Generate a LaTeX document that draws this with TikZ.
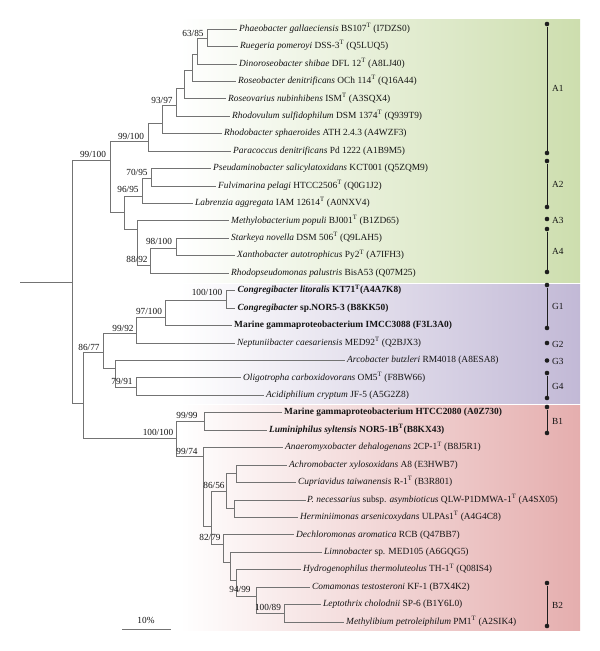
\documentclass[tikz,border=0pt]{standalone}
\usepackage{fontspec}
\setmainfont{Liberation Serif}
\definecolor{treegray}{RGB}{115,115,115}
\definecolor{bardark}{RGB}{30,30,30}
\definecolor{grpgreen}{RGB}{205,222,174}
\definecolor{grppurple}{RGB}{194,185,214}
\definecolor{grppink}{RGB}{229,174,174}
\definecolor{txt}{RGB}{20,20,20}
\begin{document}
\begin{tikzpicture}[x=1pt,y=-1pt,
  br/.style={draw=treegray, line width=0.8pt},
  leaf/.style={anchor=west, inner xsep=2.5pt, inner ysep=0pt, text height=6.5pt, text depth=2pt, text=txt, font=\fontsize{9.4}{10}\selectfont},
  bs/.style={inner sep=0pt, text=txt, font=\fontsize{9.3}{10}\selectfont},
  bar/.style={draw=bardark, line width=0.9pt},
  dot/.style={circle, fill=bardark, inner sep=0pt, minimum size=4.6pt},
  grp/.style={anchor=west, inner sep=0pt, text=txt, font=\fontsize{9.3}{10}\selectfont}]
\useasboundingbox (0,0) rectangle (600,651);
\fill[white] (0,0) rectangle (600,651);
% backgrounds
\shade[left color=white, right color=grpgreen] (180,19) rectangle (580,282.5);
\shade[left color=white, right color=grppurple] (180,284.5) rectangle (580,403.5);
\shade[left color=white, right color=grppink] (180,405.5) rectangle (580,630);
% leaves
\node[leaf] (l1) at (236.5,29.0) {\textit{Phaeobacter gallaeciensis} BS107\textsuperscript{T} (I7DZS0)};
\node[leaf] (l2) at (237.5,46.4) {\textit{Ruegeria pomeroyi} DSS-3\textsuperscript{T} (Q5LUQ5)};
\node[leaf] (l3) at (236.5,63.9) {\textit{Dinoroseobacter shibae} DFL 12\textsuperscript{T} (A8LJ40)};
\node[leaf] (l4) at (235.5,81.3) {\textit{Roseobacter denitrificans} OCh 114\textsuperscript{T} (Q16A44)};
\node[leaf] (l5) at (225.5,98.8) {\textit{Roseovarius nubinhibens} ISM\textsuperscript{T} (A3SQX4)};
\node[leaf] (l6) at (229.5,116.2) {\textit{Rhodovulum sulfidophilum} DSM 1374\textsuperscript{T} (Q939T9)};
\node[leaf] (l7) at (221.5,133.6) {\textit{Rhodobacter sphaeroides} ATH 2.4.3 (A4WZF3)};
\node[leaf] (l8) at (230.5,151.1) {\textit{Paracoccus denitrificans} Pd 1222 (A1B9M5)};
\node[leaf] (l9) at (210.5,168.5) {\textit{Pseudaminobacter salicylatoxidans} KCT001 (Q5ZQM9)};
\node[leaf] (l10) at (215.5,186.0) {\textit{Fulvimarina pelagi} HTCC2506\textsuperscript{T} (Q0G1J2)};
\node[leaf] (l11) at (192.5,203.4) {\textit{Labrenzia aggregata} IAM 12614\textsuperscript{T} (A0NXV4)};
\node[leaf] (l12) at (228.5,220.8) {\textit{Methylobacterium populi} BJ001\textsuperscript{T} (B1ZD65)};
\node[leaf] (l13) at (228.5,238.3) {\textit{Starkeya novella} DSM 506\textsuperscript{T} (Q9LAH5)};
\node[leaf] (l14) at (234.5,255.7) {\textit{Xanthobacter autotrophicus} Py2\textsuperscript{T} (A7IFH3)};
\node[leaf] (l15) at (228.5,273.2) {\textit{Rhodopseudomonas palustris} BisA53 (Q07M25)};
\node[leaf] (l16) at (235,290.6) {\textbf{\textit{Congregibacter litoralis} KT71\textsuperscript{T}(A4A7K8)}};
\node[leaf] (l17) at (235,308.0) {\textbf{\textit{Congregibacter} sp.NOR5-3 (B8KK50)}};
\node[leaf] (l18) at (231.5,325.5) {\textbf{Marine gammaproteobacterium IMCC3088 (F3L3A0)}};
\node[leaf] (l19) at (234.5,342.9) {\textit{Neptuniibacter caesariensis} MED92\textsuperscript{T} (Q2BJX3)};
\node[leaf] (l20) at (344.5,360.4) {\textit{Arcobacter butzleri} RM4018 (A8ESA8)};
\node[leaf] (l21) at (240.5,377.8) {\textit{Oligotropha carboxidovorans} OM5\textsuperscript{T} (F8BW66)};
\node[leaf] (l22) at (263.5,395.2) {\textit{Acidiphilium cryptum} JF-5 (A5G2Z8)};
\node[leaf] (l23) at (281.5,412.7) {\textbf{Marine gammaproteobacterium HTCC2080 (A0Z730)}};
\node[leaf] (l24) at (266.5,430.1) {\textbf{\textit{Luminiphilus syltensis} NOR5-1B\textsuperscript{T}(B8KX43)}};
\node[leaf] (l25) at (282.5,447.6) {\textit{Anaeromyxobacter dehalogenans} 2CP-1\textsuperscript{T} (B8J5R1)};
\node[leaf] (l26) at (286.5,465.0) {\textit{Achromobacter xylosoxidans} A8 (E3HWB7)};
\node[leaf] (l27) at (295.5,482.4) {\textit{Cupriavidus taiwanensis} R-1\textsuperscript{T} (B3R801)};
\node[leaf, inner xsep=1pt] (l28) at (306,499.9) {\textit{P. necessarius} subsp. \textit{asymbioticus} QLW-P1DMWA-1\textsuperscript{T} (A4SX05)};
\node[leaf] (l29) at (297.5,517.3) {\textit{Herminiimonas arsenicoxydans} ULPAs1\textsuperscript{T} (A4G4C8)};
\node[leaf] (l30) at (293.5,534.8) {\textit{Dechloromonas aromatica} RCB (Q47BB7)};
\node[leaf] (l31) at (321.5,552.2) {\textit{Limnobacter} sp. MED105 (A6GQG5)};
\node[leaf] (l32) at (300.5,569.6) {\textit{Hydrogenophilus thermoluteolus} TH-1\textsuperscript{T} (Q08IS4)};
\node[leaf] (l33) at (309.5,587.1) {\textit{Comamonas testosteroni} KF-1 (B7X4K2)};
\node[leaf] (l34) at (320.5,604.5) {\textit{Leptothrix cholodnii} SP-6 (B1Y6L0)};
\node[leaf] (l35) at (343.5,622.0) {\textit{Methylibium petroleiphilum} PM1\textsuperscript{T} (A2SIK4)};
% internal nodes
\coordinate (R0) at (20,282);
\coordinate (R) at (72,282);
\coordinate (N8) at (110,160);
\coordinate (N7) at (148,141);
\coordinate (N6) at (162,123);
\coordinate (N5) at (176,105);
\coordinate (N4) at (184,88);
\coordinate (N3) at (192,70);
\coordinate (N2) at (197.5,54);
\coordinate (N1) at (207,38);
\coordinate (N9) at (124,212);
\coordinate (N10) at (142,196);
\coordinate (N11) at (151,178);
\coordinate (N12) at (137,229);
\coordinate (N13) at (150,265);
\coordinate (N14) at (176,248);
\coordinate (N15) at (83,403);
\coordinate (N16) at (103,352);
\coordinate (N17) at (136,333);
\coordinate (N18) at (165,317);
\coordinate (NC) at (226,300);
\coordinate (N19) at (115,368);
\coordinate (N21) at (136,387);
\coordinate (N20) at (176,438);
\coordinate (N22) at (204,421);
\coordinate (N23) at (203,456);
\coordinate (N24) at (211,526);
\coordinate (N25) at (226,491);
\coordinate (N26) at (236,473);
\coordinate (N27) at (234,508);
\coordinate (N28) at (223,544);
\coordinate (N29) at (230,562);
\coordinate (N30) at (236,580);
\coordinate (N31) at (256,596);
\coordinate (N32) at (284,613);
% branches
\draw[br] (R0) -- (R);
\draw[br] (R) |- (N8); \draw[br] (R) |- (N15);
\draw[br] (N8) |- (N7); \draw[br] (N8) |- (N9);
\draw[br] (N7) |- (N6); \draw[br] (N7) |- (l8.west);
\draw[br] (N6) |- (N5); \draw[br] (N6) |- (l7.west);
\draw[br] (N5) |- (N4); \draw[br] (N5) |- (l6.west);
\draw[br] (N4) |- (N3); \draw[br] (N4) |- (l5.west);
\draw[br] (N3) |- (N2); \draw[br] (N3) |- (l4.west);
\draw[br] (N2) |- (N1); \draw[br] (N2) |- (l3.west);
\draw[br] (N1) |- (l1.west); \draw[br] (N1) |- (l2.west);
\draw[br] (N9) |- (N10); \draw[br] (N9) |- (N12);
\draw[br] (N10) |- (N11); \draw[br] (N10) |- (l11.west);
\draw[br] (N11) |- (l9.west); \draw[br] (N11) |- (l10.west);
\draw[br] (N12) |- (l12.west); \draw[br] (N12) |- (N13);
\draw[br] (N13) |- (N14); \draw[br] (N13) |- (l15.west);
\draw[br] (N14) |- (l13.west); \draw[br] (N14) |- (l14.west);
\draw[br] (N15) |- (N16); \draw[br] (N15) |- (N20);
\draw[br] (N16) |- (N17); \draw[br] (N16) |- (N19);
\draw[br] (N17) |- (N18); \draw[br] (N17) |- (l19.west);
\draw[br] (N18) |- (NC); \draw[br] (N18) |- (l18.west);
\draw[br] (NC) |- (l16.west); \draw[br] (NC) |- (l17.west);
\draw[br] (N19) |- (l20.west); \draw[br] (N19) |- (N21);
\draw[br] (N21) |- (l21.west); \draw[br] (N21) |- (l22.west);
\draw[br] (N20) |- (N22); \draw[br] (N20) |- (N23);
\draw[br] (N22) |- (l23.west); \draw[br] (N22) |- (l24.west);
\draw[br] (N23) |- (l25.west); \draw[br] (N23) |- (N24);
\draw[br] (N24) |- (N25); \draw[br] (N24) |- (N28);
\draw[br] (N25) |- (N26); \draw[br] (N25) |- (N27);
\draw[br] (N26) |- (l26.west); \draw[br] (N26) |- (l27.west);
\draw[br] (N27) |- (l28.west); \draw[br] (N27) |- (l29.west);
\draw[br] (N28) |- (l30.west); \draw[br] (N28) |- (N29);
\draw[br] (N29) |- (l31.west); \draw[br] (N29) |- (N30);
\draw[br] (N30) |- (l32.west); \draw[br] (N30) |- (N31);
\draw[br] (N31) |- (l33.west); \draw[br] (N31) |- (N32);
\draw[br] (N32) |- (l34.west); \draw[br] (N32) |- (l35.west);
% bootstrap labels
\node[bs] (b1) at (193,33) {63/85};
\node[bs] (b2) at (162,100) {93/97};
\node[bs] (b3) at (131,136) {99/100};
\node[bs] (b4) at (93,154) {99/100};
\node[bs] (b5) at (137,172) {70/95};
\node[bs] (b6) at (128,189) {96/95};
\node[bs] (b7) at (159,241) {98/100};
\node[bs] (b8) at (137,259) {88/92};
\node[bs] (b9) at (207,292) {100/100};
\node[bs] (b10) at (149,311) {97/100};
\node[bs] (b11) at (123,328) {99/92};
\node[bs] (b12) at (89,347) {86/77};
\node[bs] (b13) at (122,381) {79/91};
\node[bs] (b14) at (187,415) {99/99};
\node[bs] (b15) at (158,432) {100/100};
\node[bs] (b16) at (187,451) {99/74};
\node[bs] (b17) at (214,485) {86/56};
\node[bs] (b18) at (210,537) {82/79};
\node[bs] (b19) at (240,589) {94/99};
\node[bs] (b20) at (268,607) {100/89};
% group bars
\node[dot] (a1t) at (547,24) {}; \node[dot] (a1b) at (547,153) {};
\draw[bar] (a1t) -- (a1b);
\node[grp] (ga1) at (552,88.5) {A1};
\node[dot] (a2t) at (547,161) {}; \node[dot] (a2b) at (547,207) {};
\draw[bar] (a2t) -- (a2b);
\node[grp] (ga2) at (552,184) {A2};
\node[dot] (a3) at (547,219) {};
\node[grp] (ga3) at (552,220) {A3};
\node[dot] (a4t) at (547,229) {}; \node[dot] (a4b) at (547,272) {};
\draw[bar] (a4t) -- (a4b);
\node[grp] (ga4) at (552,251) {A4};
\node[dot] (g1t) at (547,285) {}; \node[dot] (g1b) at (547,328) {};
\draw[bar] (g1t) -- (g1b);
\node[grp] (gg1) at (552,306.5) {G1};
\node[dot] (g2) at (547,343) {};
\node[grp] (gg2) at (552,344) {G2};
\node[dot] (g3) at (547,360.5) {};
\node[grp] (gg3) at (552,361.5) {G3};
\node[dot] (g4t) at (547,373) {}; \node[dot] (g4b) at (547,398) {};
\draw[bar] (g4t) -- (g4b);
\node[grp] (gg4) at (552,386) {G4};
\node[dot] (b1t) at (547,407) {}; \node[dot] (b1b) at (547,433) {};
\draw[bar] (b1t) -- (b1b);
\node[grp] (gb1) at (552,421) {B1};
\node[dot] (b2t) at (547,583) {}; \node[dot] (b2b) at (547,626) {};
\draw[bar] (b2t) -- (b2b);
\node[grp] (gb2) at (552,605) {B2};
% scale bar
\coordinate (s1) at (122,629);
\coordinate (s2) at (171,629);
\draw[br] (s1) -- (s2);
\node[bs] (sl) at (146,620) {10\%};
\end{tikzpicture}
\end{document}
